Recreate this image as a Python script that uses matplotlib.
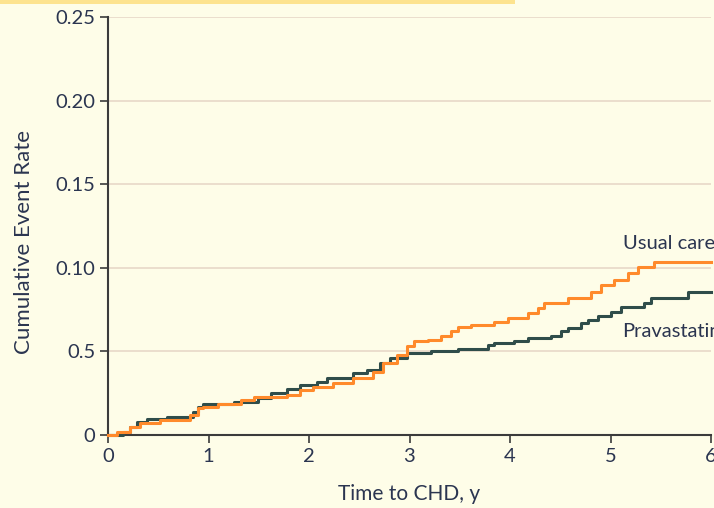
import matplotlib
matplotlib.use("Agg")
import matplotlib.pyplot as plt
from matplotlib.patches import Rectangle

# ---- data ----
prava_t = [0, 0.15, 0.22, 0.29, 0.39, 0.59, 0.85, 0.90, 0.95, 1.25, 1.49, 1.62, 1.78, 1.91,
           2.08, 2.18, 2.44, 2.58, 2.71, 2.81, 2.98, 3.21, 3.48, 3.78, 3.84, 4.04, 4.18,
           4.41, 4.51, 4.58, 4.71, 4.78, 4.88, 5.00, 5.10, 5.33, 5.40, 5.77, 6.00]
prava_v = [0, 0.002, 0.005, 0.0078, 0.0096, 0.011, 0.014, 0.017, 0.0185, 0.020, 0.022, 0.025,
           0.0275, 0.030, 0.0317, 0.034, 0.037, 0.039, 0.043, 0.046, 0.049, 0.050, 0.0514,
           0.054, 0.055, 0.056, 0.058, 0.059, 0.062, 0.064, 0.067, 0.069, 0.071, 0.0735,
           0.0765, 0.079, 0.082, 0.0855, 0.0855]

usual_t = [0, 0.09, 0.22, 0.32, 0.52, 0.82, 0.90, 0.95, 1.09, 1.32, 1.45, 1.78, 1.91, 2.04,
           2.24, 2.44, 2.64, 2.74, 2.88, 2.98, 3.04, 3.18, 3.31, 3.41, 3.48, 3.61, 3.84,
           3.98, 4.18, 4.28, 4.34, 4.58, 4.81, 4.91, 5.03, 5.17, 5.27, 5.43, 6.00]
usual_v = [0, 0.0018, 0.005, 0.007, 0.009, 0.012, 0.016, 0.0167, 0.0185, 0.021, 0.0227, 0.024,
           0.027, 0.0287, 0.031, 0.034, 0.0377, 0.043, 0.048, 0.053, 0.056, 0.057, 0.059,
           0.062, 0.0645, 0.066, 0.0675, 0.070, 0.073, 0.076, 0.079, 0.082, 0.0855, 0.0897,
           0.0927, 0.097, 0.1005, 0.1035, 0.1035]

y_ticks = [0, 0.05, 0.10, 0.15, 0.20, 0.25]
y_ticklabels = ["0", "0.5", "0.10", "0.15", "0.20", "0.25"]
x_ticks = [0, 1, 2, 3, 4, 5, 6]
x_ticklabels = ["0", "1", "2", "3", "4", "5", "6"]

# ---- style ----
plt.rcParams['font.family'] = ['Lato', 'DejaVu Sans']
BG = '#fefde8'
TXT = '#2b3550'
ORANGE = '#ff8a2b'
GREEN = '#2f4d4a'
GRID = '#e8d8c8'
SPINE = '#3b3b3b'
FS = 14.5

fig = plt.figure(figsize=(7.14, 5.08), dpi=100, facecolor=BG)
ax = fig.add_axes([108/714, 1-435/508, (711-108)/714, (435-17)/508])
ax.set_facecolor(BG)

fig.patches.append(Rectangle((0, 1-3.5/508), 515/714, 3.5/508, transform=fig.transFigure,
                             facecolor='#fde38f', edgecolor='none', zorder=0))

ax.step(prava_t, prava_v, where='post', color=GREEN, lw=2.2, zorder=3, clip_on=False)
ax.step(usual_t, usual_v, where='post', color=ORANGE, lw=2.2, zorder=4, clip_on=False)

ax.set_xlim(0, 6)
ax.set_ylim(0, 0.25)
ax.set_yticks(y_ticks)
ax.set_yticklabels(y_ticklabels)
ax.set_xticks(x_ticks)
ax.set_xticklabels(x_ticklabels)

for y in y_ticks[1:]:
    ax.axhline(y, color=GRID, lw=1.2, zorder=1)

for s in ['top', 'right']:
    ax.spines[s].set_visible(False)
for s in ['left', 'bottom']:
    ax.spines[s].set_color(SPINE)
    ax.spines[s].set_linewidth(1.5)

ax.tick_params(axis='both', direction='out', length=6, width=1.2, color=SPINE,
               labelcolor=TXT, labelsize=FS, pad=3)

ax.set_xlabel('Time to CHD, y', fontsize=15, color=TXT, labelpad=14)
ax.set_ylabel('Cumulative Event Rate', fontsize=16, color=TXT)
ax.yaxis.set_label_coords(-0.122, 0.462)

ax.text(5.12, 0.1148, 'Usual care', fontsize=FS, color=TXT, va='center', ha='left', clip_on=False)
ax.text(5.12, 0.062, 'Pravastatin', fontsize=FS, color=TXT, va='center', ha='left', clip_on=False)

fig.savefig('out.png', dpi=100, facecolor=BG)
